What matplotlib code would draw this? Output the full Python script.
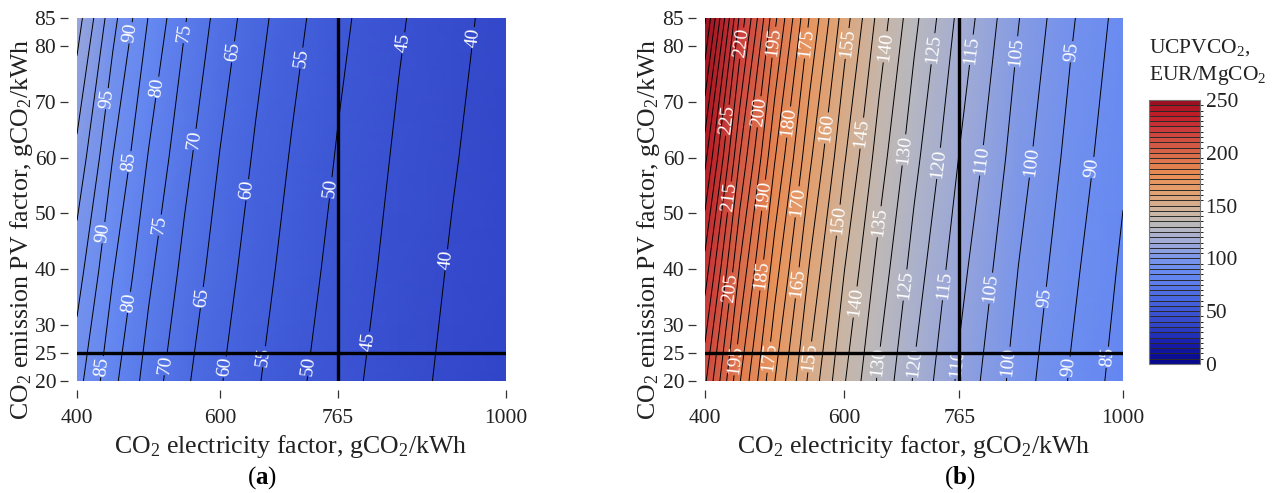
import matplotlib
matplotlib.use('Agg')
import matplotlib.pyplot as plt
from matplotlib.cm import ScalarMappable
from matplotlib.colors import BoundaryNorm, LinearSegmentedColormap

plt.rcParams['font.family'] = ['Liberation Serif', 'DejaVu Serif']
plt.rcParams['mathtext.fontset'] = 'custom'
plt.rcParams['mathtext.rm'] = 'Liberation Serif'
plt.rcParams['mathtext.bf'] = 'Liberation Serif:bold'
plt.rcParams['mathtext.default'] = 'regular'

# grid the surfaces were read on
elec_factor = [400, 450, 500, 550, 600, 650, 700, 765, 850, 925, 1000]
pv_factor = [20, 40, 60, 85]

ucpv_a = [
    [91.9, 81.3, 72.9, 66.0, 60.4, 55.6, 51.5, 47.0, 42.2, 38.7, 35.8],
    [97.3, 85.4, 76.1, 68.7, 62.5, 57.4, 53.0, 48.3, 43.2, 39.5, 36.4],
    [103.5, 90.0, 79.7, 71.5, 64.8, 59.3, 54.6, 49.6, 44.2, 40.4, 37.1],
    [112.4, 96.6, 84.8, 75.5, 68.0, 61.9, 56.8, 51.3, 45.6, 41.5, 38.0],
]
ucpv_b = [
    [215.9, 190.3, 170.1, 153.8, 140.4, 129.1, 119.5, 109.0, 97.7, 89.5, 82.6],
    [227.8, 199.4, 177.3, 159.6, 145.1, 133.1, 122.9, 111.7, 99.9, 91.3, 84.1],
    [241.5, 209.8, 185.4, 166.1, 150.5, 137.5, 126.6, 114.8, 102.3, 93.3, 85.8],
    [260.8, 224.0, 196.3, 174.7, 157.4, 143.2, 131.4, 118.6, 105.2, 95.7, 87.8],
]

levels = list(range(0, 265, 5))
x_ticks = [400, 600, 765, 1000]
y_ticks = [20, 25, 30, 40, 50, 60, 70, 80, 85]
bar_ticks = [0, 50, 100, 150, 200, 250]
base_elec = 765
base_pv = 25

# where the contour labels sit
label_x_a = [477, 555, 620, 715, 859, 959, 512, 445, 568, 477, 641, 754, 441, 516, 917, 477, 576, 804, 664, 439, 526, 607, 726]
label_y_a = [82.3, 82.3, 78.9, 77.8, 80.5, 81.4, 72.6, 70.5, 63.2, 59.2, 54.2, 54.6, 46.5, 47.9, 41.7, 34, 34.9, 27, 24.3, 22.5, 22.9, 22.5, 22.7]

label_x_b = [453, 496, 546, 600, 661, 727, 783, 851, 930,
             432, 478, 518, 574, 624, 684, 733, 792, 869, 957,
             433, 482, 531, 591, 651,
             436, 480, 531, 612, 686, 742, 805, 885,
             443, 489, 551, 647, 696, 756, 831, 920, 974]
label_y_b = [80.5, 80.7, 80.5, 80.5, 79.8, 79.5, 79.3, 78.9, 78.9,
             66.7, 68.2, 66.4, 65.3, 64.4, 61.4, 59, 59.6, 59.2, 58.2,
             53, 53.3, 52.1, 48.8, 48.5,
             36.7, 39, 37.6, 34.2, 37.2, 37.2, 36.7, 35,
             23.8, 24.3, 24.3, 23.4, 23.4, 23.2, 23.4, 22.5, 24.3]

cmap_points = [
    (0, '#08088f'), (20, '#1a22ad'), (35, '#3145c8'), (60, '#4765de'),
    (85, '#678af2'), (100, '#7a95ea'), (115, '#a0aad6'), (130, '#b8b9c0'),
    (145, '#cdb5a0'), (160, '#e0a476'), (180, '#ea8f55'), (200, '#d96b4a'),
    (225, '#c9383a'), (240, '#bf1a25'), (250, '#9a1020'),
]
cmap = LinearSegmentedColormap.from_list('ucpv', [(v / 250, c) for v, c in cmap_points])

W, H = 1277, 493
fig = plt.figure(figsize=(W / 100, H / 100), dpi=100)


def draw_panel(left_px, width_px, z, xs, ys):
    ax = fig.add_axes([left_px / W, (H - 381) / H, width_px / W, 363 / H])
    ax.pcolormesh(elec_factor, pv_factor, z, shading='gouraud', cmap=cmap, vmin=0, vmax=250)
    cs = ax.contour(elec_factor, pv_factor, z, levels=levels, colors='black', linewidths=0.7)
    ax.set_xlim(400, 1000)
    ax.set_ylim(20, 85)
    ax.clabel(cs, levels=cs.levels, manual=list(zip(xs, ys)), fmt='%d', colors='white', fontsize=14, inline=True, inline_spacing=1)
    for t in cs.labelTexts:
        t.set_zorder(3)
    ax.axvline(base_elec, color='black', lw=2.4, zorder=4)
    ax.axhline(base_pv, color='black', lw=2.4, zorder=4)
    ax.set_xticks(x_ticks)
    ax.set_yticks(y_ticks)
    ax.spines['left'].set_position(('outward', 6.5))
    ax.spines['bottom'].set_position(('outward', 6.5))
    for s in ax.spines.values():
        s.set_visible(False)
    ax.tick_params(axis='both', length=5.5, width=0.9, color='#333333', labelcolor='#222222', labelsize=15.5)
    ax.tick_params(axis='x', pad=8)
    ax.tick_params(axis='y', pad=3)
    return ax


ax_a = draw_panel(77, 429, ucpv_a, label_x_a, label_y_a)
ax_b = draw_panel(705, 418, ucpv_b, label_x_b, label_y_b)

xlabel = 'CO$_2$ electricity factor, gCO$_2$/kWh'
ylabel = 'CO$_2$ emission PV factor, gCO$_2$/kWh'
text_color = '#222222'
for cx, lab_x, letter, letter_x in [(291, 22, 'a', 262), (914, 649, 'b', 960)]:
    fig.text(cx / W, 1 - 447 / H, xlabel, ha='center', va='center', fontsize=18.6, color=text_color)
    fig.text(lab_x / W, 1 - 229 / H, ylabel, ha='center', va='center', rotation=90, fontsize=18.6, color=text_color)
    fig.text(letter_x / W, 1 - 478 / H, '($\\mathbf{%s}$)' % letter, ha='center', va='center', fontsize=18, color='black')

# colour bar with one band per contour level
cax = fig.add_axes([1149 / W, (H - 364) / H, 51 / W, 264 / H])
bar_levels = list(range(0, 255, 5))
sm = ScalarMappable(norm=BoundaryNorm(bar_levels, cmap.N), cmap=cmap)
cb = fig.colorbar(sm, cax=cax, ticks=bar_ticks, drawedges=True, spacing='proportional')
cb.dividers.set_color('#2a2a2a')
cb.dividers.set_linewidth(0.7)
cb.outline.set_edgecolor('#777777')
cb.ax.tick_params(length=0, labelsize=15.5, labelcolor='#222222', pad=4)
fig.text(1149 / W, 1 - 62 / H, 'UCPVCO$_2$,\nEUR/MgCO$_2$', ha='left', va='center', fontsize=15.5, color=text_color, linespacing=1.4)

fig.savefig('out.png', dpi=100)
